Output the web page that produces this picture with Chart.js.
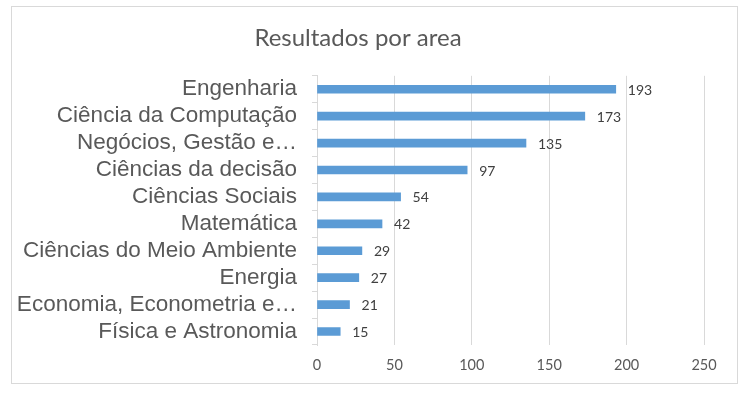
<!DOCTYPE html>
<html>
<head>
<meta charset="utf-8">
<script src="https://cdn.jsdelivr.net/npm/chart.js@4/dist/chart.umd.min.js"></script>
<style>
  body { margin: 0; background: #fff; }
  #box {
    position: absolute; left: 11px; top: 6px;
    width: 725px; height: 376px;
    border: 1px solid #d9d9d9;
  }
</style>
</head>
<body>
<div id="box"><canvas id="chart"></canvas></div>
<script>
const areas = [
  'Engenharia',
  'Ciência da Computação',
  'Negócios, Gestão e…',
  'Ciências da decisão',
  'Ciências Sociais',
  'Matemática',
  'Ciências do Meio Ambiente',
  'Energia',
  'Economia, Econometria e…',
  'Física e Astronomia'
];
const counts = [193, 173, 135, 97, 54, 42, 29, 27, 21, 15];
const xTicks = [0, 50, 100, 150, 200, 250];

// draw the value just right of each bar
const valueLabels = {
  id: 'valueLabels',
  afterDatasetsDraw(chart) {
    const ctx = chart.ctx;
    ctx.save();
    ctx.font = '14px Lato';
    ctx.fillStyle = '#404040';
    ctx.textBaseline = 'middle';
    ctx.textAlign = 'left';
    chart.getDatasetMeta(0).data.forEach((bar, i) => {
      ctx.fillText(counts[i], bar.x + 12, bar.y + 1);
    });
    ctx.restore();
  }
};

new Chart(document.getElementById('chart').getContext('2d'), {
  type: 'bar',
  data: {
    labels: areas,
    datasets: [{
      data: counts,
      backgroundColor: '#5b9bd5',
      barThickness: 8
    }]
  },
  plugins: [valueLabels],
  options: {
    indexAxis: 'y',
    responsive: true,
    maintainAspectRatio: false,
    animation: false,
    layout: { padding: { left: 0, right: 33, top: 0, bottom: 0 } },
    plugins: {
      legend: { display: false },
      tooltip: { enabled: false },
      title: {
        display: true,
        text: 'Resultados por area',
        color: '#595959',
        font: { family: 'Lato', size: 24, weight: 'normal' },
        padding: { top: 17, bottom: 23 }
      }
    },
    scales: {
      x: {
        min: 0,
        max: 250,
        afterBuildTicks: s => { s.ticks = xTicks.map(v => ({ value: v })); },
        afterFit: s => { s.height = 38; },
        border: { display: false },
        grid: { color: '#d9d9d9', drawTicks: false },
        ticks: {
          color: '#595959',
          font: { family: 'Lato', size: 14.5 },
          padding: 12
        }
      },
      y: {
        afterFit: s => { s.width = 305; },
        border: { color: '#d9d9d9' },
        grid: {
          offset: true,
          drawOnChartArea: false,
          color: '#d9d9d9',
          tickLength: 5
        },
        ticks: {
          color: '#595959',
          font: { family: 'Liberation Sans', size: 22.5 },
          padding: 15,
          autoSkip: false
        }
      }
    }
  }
});
</script>
</body>
</html>
